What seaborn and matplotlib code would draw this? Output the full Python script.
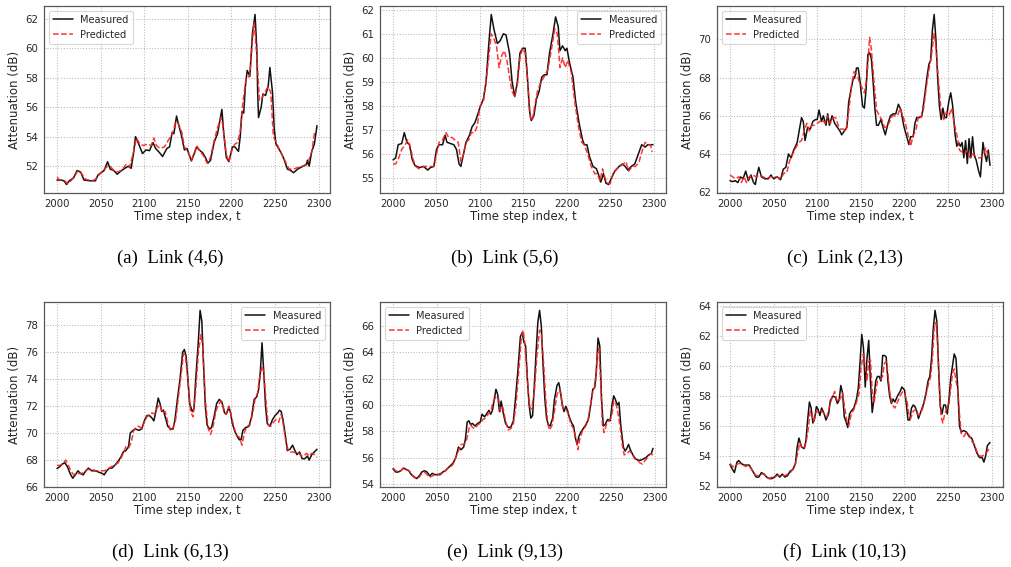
import matplotlib
matplotlib.use("Agg")
import matplotlib.pyplot as plt
import seaborn as sns

# ---- Link (4,6) ----
a_meas_t = [2000, 2005, 2008, 2011, 2014, 2019, 2023, 2027, 2031, 2038, 2044, 2047, 2054, 2058, 2061, 2065,
            2069, 2074, 2079, 2082, 2085, 2088, 2090, 2093, 2098, 2102, 2106, 2110, 2113, 2117, 2121, 2126,
            2129, 2132, 2134, 2137, 2139, 2143, 2146, 2149, 2154, 2157, 2160, 2163, 2167, 2170, 2173, 2176,
            2180, 2184, 2187, 2189, 2191, 2194, 2197, 2201, 2204, 2208, 2210, 2212, 2214, 2216, 2218, 2221,
            2224, 2227, 2229, 2230, 2231, 2234, 2236, 2239, 2242, 2244, 2247, 2249, 2251, 2256, 2260, 2264,
            2268, 2271, 2276, 2282, 2286, 2287, 2289, 2292, 2295, 2298]
a_meas_v = [51.05, 51.05, 51.0, 50.75, 51.0, 51.2, 51.7, 51.6, 51.05, 51.0, 51.0, 51.4, 51.7, 52.3, 51.8, 51.7,
            51.45, 51.7, 51.9, 52.0, 51.85, 53.0, 54.0, 53.6, 52.85, 53.1, 53.05, 53.6, 53.2, 52.95, 52.65, 53.2,
            53.3, 54.3, 54.2, 55.4, 54.9, 54.0, 53.1, 53.2, 52.35, 52.8, 53.3, 53.1, 52.9, 52.6, 52.2, 52.4,
            53.6, 54.2, 55.2, 55.85, 54.3, 52.6, 52.3, 53.3, 53.3, 53.0, 54.0, 55.7, 55.6, 57.5, 58.5, 58.1,
            61.0, 62.3, 60.0, 57.0, 55.3, 56.0, 56.9, 56.8, 57.4, 58.7, 57.0, 54.5, 53.5, 53.0, 52.5, 51.8,
            51.7, 51.55, 51.8, 52.0, 52.1, 52.4, 52.0, 53.0, 53.5, 54.75]
a_pred_t = [2000, 2003, 2009, 2012, 2016, 2020, 2024, 2028, 2033, 2040, 2044, 2048, 2053, 2058, 2061, 2065,
            2069, 2074, 2079, 2083, 2088, 2091, 2095, 2099, 2104, 2108, 2111, 2114, 2118, 2123, 2128, 2133,
            2136, 2139, 2143, 2146, 2150, 2154, 2158, 2160, 2164, 2168, 2172, 2176, 2180, 2184, 2188, 2190,
            2194, 2197, 2201, 2204, 2207, 2210, 2213, 2217, 2221, 2224, 2226, 2229, 2232, 2234, 2237, 2240,
            2242, 2245, 2248, 2252, 2256, 2261, 2266, 2271, 2276, 2283, 2288, 2292, 2295, 2298]
a_pred_v = [51.25, 51.05, 51.0, 50.8, 51.0, 51.3, 51.7, 51.5, 51.1, 51.0, 51.1, 51.4, 51.7, 52.0, 52.0, 51.7,
            51.6, 51.7, 52.1, 51.9, 53.0, 53.9, 53.5, 53.4, 53.5, 53.4, 53.9, 53.4, 53.2, 53.3, 53.8, 54.3,
            55.0, 54.9, 54.3, 53.3, 53.0, 52.4, 53.0, 53.4, 53.0, 52.7, 52.2, 52.6, 53.7, 54.6, 55.3, 54.8,
            52.8, 52.3, 53.2, 53.5, 53.6, 54.4, 56.3, 58.0, 58.1, 60.5, 61.8, 59.5, 56.5, 56.5, 56.9, 57.2,
            57.4, 57.0, 54.0, 53.5, 53.0, 52.4, 51.8, 51.8, 51.9, 52.0, 52.3, 53.0, 54.2, 54.3]

# ---- Link (5,6) ----
b_meas_t = [2000, 2003, 2006, 2010, 2013, 2016, 2019, 2022, 2025, 2030, 2035, 2040, 2043, 2047, 2050, 2053,
            2057, 2060, 2062, 2066, 2070, 2073, 2076, 2078, 2081, 2084, 2088, 2091, 2094, 2097, 2100, 2104,
            2107, 2110, 2113, 2116, 2120, 2123, 2127, 2130, 2134, 2137, 2140, 2143, 2146, 2149, 2152, 2154,
            2157, 2159, 2162, 2165, 2168, 2171, 2174, 2177, 2180, 2184, 2187, 2190, 2192, 2195, 2198, 2200,
            2203, 2207, 2210, 2214, 2218, 2220, 2223, 2226, 2230, 2234, 2236, 2239, 2242, 2245, 2248, 2251,
            2255, 2260, 2264, 2267, 2270, 2274, 2278, 2282, 2286, 2290, 2293, 2299]
b_meas_v = [55.77, 55.85, 56.4, 56.45, 56.9, 56.5, 56.4, 55.8, 55.55, 55.45, 55.5, 55.35, 55.45, 55.5, 56.2, 56.4,
            56.4, 56.8, 56.5, 56.45, 56.4, 56.2, 55.6, 55.5, 56.0, 56.5, 56.8, 57.15, 57.3, 57.6, 57.95, 58.3,
            59.0, 60.5, 61.8, 61.2, 60.6, 60.7, 61.0, 60.95, 60.2, 59.0, 58.4, 59.0, 60.2, 60.4, 60.4, 59.5,
            57.8, 57.4, 57.6, 58.3, 58.6, 59.2, 59.3, 59.3, 60.2, 61.0, 61.7, 61.3, 60.3, 60.5, 60.3, 60.4,
            59.8, 59.2, 58.2, 57.3, 56.6, 56.4, 56.4, 55.9, 55.5, 55.4, 55.2, 54.85, 55.2, 54.8, 54.75, 55.0,
            55.3, 55.5, 55.6, 55.5, 55.35, 55.5, 55.6, 56.0, 56.4, 56.3, 56.4, 56.4]
b_pred_t = [2000, 2003, 2006, 2010, 2014, 2017, 2020, 2023, 2026, 2030, 2035, 2040, 2044, 2047, 2050, 2053,
            2057, 2061, 2064, 2068, 2071, 2075, 2078, 2081, 2084, 2087, 2090, 2094, 2097, 2100, 2104, 2107,
            2110, 2113, 2116, 2119, 2122, 2125, 2128, 2131, 2134, 2137, 2140, 2143, 2146, 2149, 2152, 2155,
            2158, 2160, 2163, 2166, 2169, 2172, 2175, 2178, 2182, 2186, 2189, 2192, 2195, 2198, 2201, 2205,
            2209, 2213, 2217, 2220, 2224, 2228, 2232, 2235, 2238, 2241, 2244, 2247, 2250, 2253, 2257, 2261,
            2265, 2268, 2271, 2275, 2279, 2283, 2287, 2290, 2294, 2296, 2298]
b_pred_v = [55.6, 55.6, 55.8, 56.2, 56.4, 56.6, 56.3, 55.8, 55.5, 55.4, 55.5, 55.5, 55.5, 55.5, 56.0, 56.5,
            56.6, 56.9, 56.7, 56.7, 56.6, 56.5, 55.7, 56.0, 56.5, 56.6, 56.9, 56.9, 57.2, 58.0, 58.2, 59.0,
            60.0, 61.0, 60.8, 60.5, 59.6, 60.1, 60.3, 59.9, 59.2, 58.6, 58.4, 58.9, 60.0, 60.4, 60.2, 59.0,
            57.5, 57.4, 58.0, 58.6, 58.9, 59.1, 59.3, 59.5, 60.3, 61.2, 61.0, 59.6, 60.0, 59.6, 59.9, 59.4,
            58.2, 57.2, 56.5, 56.4, 56.0, 55.5, 55.2, 55.2, 54.9, 55.4, 55.0, 54.8, 54.8, 55.2, 55.4, 55.5,
            55.6, 55.7, 55.3, 55.5, 55.5, 55.7, 56.2, 56.5, 56.4, 56.4, 56.1]

# ---- Link (2,13) ----
c_meas_t = [2000, 2003, 2006, 2009, 2012, 2015, 2018, 2021, 2024, 2027, 2029, 2031, 2033, 2036, 2040, 2044,
            2047, 2050, 2054, 2058, 2061, 2064, 2067, 2070, 2073, 2077, 2080, 2082, 2084, 2086, 2089, 2092,
            2095, 2098, 2100, 2102, 2105, 2107, 2110, 2112, 2114, 2117, 2120, 2123, 2126, 2128, 2131, 2134,
            2136, 2138, 2141, 2143, 2145, 2147, 2149, 2152, 2154, 2156, 2158, 2160, 2162, 2164, 2166, 2168,
            2170, 2173, 2176, 2178, 2181, 2184, 2187, 2190, 2193, 2196, 2199, 2202, 2205, 2207, 2210, 2212,
            2214, 2217, 2220, 2223, 2226, 2228, 2230, 2232, 2234, 2236, 2238, 2240, 2242, 2244, 2246, 2248,
            2251, 2253, 2255, 2258, 2260, 2262, 2264, 2266, 2268, 2270, 2272, 2274, 2276, 2278, 2280, 2282,
            2285, 2287, 2290, 2292, 2294, 2296, 2298]
c_meas_v = [62.6, 62.55, 62.6, 62.5, 62.8, 62.7, 63.1, 62.6, 62.9, 62.5, 62.4, 62.9, 63.3, 62.8, 62.7, 62.7,
            62.9, 62.7, 62.8, 62.65, 63.2, 63.3, 64.0, 63.8, 64.2, 64.6, 65.4, 65.9, 65.7, 64.7, 65.4, 65.3,
            65.7, 65.8, 65.8, 66.3, 65.7, 66.0, 65.5, 66.1, 65.5, 66.0, 65.6, 65.4, 65.2, 65.0, 65.2, 65.4,
            66.7, 67.2, 67.9, 68.0, 68.5, 68.5, 67.8, 66.5, 66.4, 67.4, 69.2, 69.3, 69.0, 67.8, 66.4, 65.5,
            65.5, 65.8, 65.3, 65.0, 65.6, 66.0, 66.1, 66.1, 66.6, 66.3, 65.5, 65.0, 64.5, 64.9, 64.9, 65.6,
            65.9, 65.9, 66.0, 67.0, 68.1, 68.7, 68.9, 70.5, 71.3, 70.0, 68.0, 66.5, 65.8, 66.4, 65.9, 65.9,
            66.8, 67.2, 66.6, 65.0, 64.4, 64.6, 64.4, 64.6, 63.8, 64.7, 63.5, 64.8, 63.8, 64.9, 63.9, 63.7,
            63.1, 62.8, 64.6, 64.0, 63.6, 64.2, 63.4]
c_pred_t = [2000, 2003, 2006, 2010, 2013, 2016, 2019, 2022, 2026, 2030, 2034, 2038, 2042, 2046, 2050, 2054,
            2058, 2062, 2065, 2068, 2071, 2075, 2079, 2082, 2085, 2088, 2091, 2094, 2097, 2100, 2103, 2106,
            2109, 2112, 2115, 2118, 2121, 2124, 2127, 2130, 2133, 2136, 2139, 2142, 2145, 2148, 2151, 2154,
            2157, 2160, 2162, 2165, 2168, 2171, 2174, 2177, 2180, 2183, 2186, 2189, 2192, 2195, 2198, 2201,
            2204, 2207, 2210, 2213, 2216, 2219, 2222, 2225, 2228, 2231, 2234, 2236, 2239, 2242, 2245, 2248,
            2251, 2254, 2257, 2260, 2263, 2266, 2269, 2272, 2275, 2278, 2281, 2284, 2287, 2290, 2293, 2296,
            2298]
c_pred_v = [62.9, 62.8, 62.7, 62.8, 62.5, 62.8, 62.5, 62.8, 62.9, 62.8, 62.9, 62.8, 62.7, 62.8, 62.8, 62.8,
            62.7, 63.0, 63.0, 63.6, 63.9, 64.3, 64.6, 64.7, 65.2, 65.6, 65.2, 65.5, 65.5, 65.6, 65.7, 65.8,
            65.6, 66.0, 65.6, 65.9, 65.9, 65.5, 65.3, 65.3, 65.2, 66.2, 67.5, 68.3, 68.2, 67.8, 67.5, 67.2,
            68.0, 70.1, 69.5, 67.8, 66.3, 66.0, 65.8, 65.4, 65.4, 65.7, 66.0, 66.0, 66.0, 66.4, 66.0, 65.6,
            65.0, 64.4, 65.0, 65.2, 66.0, 65.9, 66.4, 67.5, 68.4, 69.2, 70.3, 69.6, 67.8, 66.2, 65.8, 66.2,
            66.0, 66.4, 65.6, 65.0, 64.2, 64.1, 64.0, 64.2, 63.8, 64.0, 63.9, 63.8, 63.8, 63.9, 64.3, 63.9,
            64.0]

# ---- Link (6,13) ----
d_meas_t = [2000, 2003, 2006, 2009, 2012, 2015, 2018, 2021, 2024, 2027, 2030, 2033, 2036, 2040, 2044, 2048,
            2052, 2054, 2057, 2060, 2063, 2066, 2070, 2073, 2076, 2079, 2082, 2084, 2087, 2090, 2094, 2097,
            2100, 2103, 2106, 2109, 2111, 2113, 2116, 2118, 2120, 2122, 2124, 2127, 2130, 2133, 2135, 2138,
            2141, 2144, 2146, 2148, 2150, 2152, 2155, 2157, 2159, 2162, 2164, 2166, 2168, 2170, 2172, 2175,
            2177, 2180, 2183, 2186, 2189, 2192, 2194, 2197, 2199, 2201, 2204, 2207, 2209, 2211, 2213, 2216,
            2220, 2223, 2226, 2229, 2231, 2233, 2235, 2237, 2239, 2241, 2244, 2247, 2250, 2253, 2255, 2257,
            2259, 2262, 2264, 2267, 2270, 2272, 2275, 2278, 2281, 2284, 2287, 2289, 2292, 2295, 2298]
d_meas_v = [67.37, 67.5, 67.7, 67.8, 67.5, 67.0, 66.65, 66.9, 67.2, 67.0, 66.9, 67.2, 67.4, 67.2, 67.2, 67.1,
            67.0, 66.9, 67.2, 67.4, 67.4, 67.6, 67.9, 68.2, 68.6, 68.7, 69.0, 70.0, 70.2, 70.3, 70.2, 70.3,
            70.9, 71.3, 71.3, 71.1, 70.9, 71.5, 72.6, 72.2, 71.6, 71.7, 71.2, 70.5, 70.3, 70.3, 70.9, 72.5,
            74.0, 76.0, 76.2, 75.7, 74.0, 72.2, 71.6, 71.8, 74.0, 76.8, 79.1, 78.3, 75.0, 72.0, 70.6, 70.3,
            70.4, 71.2, 72.2, 72.5, 72.3, 71.5, 71.4, 71.9, 71.5, 70.7, 70.1, 69.7, 69.5, 69.5, 70.2, 70.4,
            70.5, 71.2, 72.5, 72.7, 73.2, 74.5, 76.7, 74.5, 72.0, 70.7, 70.5, 71.0, 71.3, 71.5, 71.7, 71.6,
            71.0, 69.7, 68.7, 68.8, 69.1, 68.8, 68.4, 68.6, 68.1, 68.1, 68.3, 68.0, 68.4, 68.6, 68.8]
d_pred_t = [2000, 2003, 2006, 2010, 2013, 2016, 2019, 2022, 2025, 2028, 2031, 2035, 2040, 2045, 2050, 2054,
            2058, 2062, 2066, 2070, 2073, 2076, 2079, 2082, 2085, 2088, 2091, 2094, 2097, 2100, 2103, 2106,
            2109, 2112, 2115, 2118, 2121, 2124, 2127, 2130, 2133, 2136, 2139, 2142, 2145, 2147, 2150, 2153,
            2156, 2159, 2162, 2165, 2167, 2170, 2173, 2176, 2179, 2182, 2185, 2188, 2191, 2194, 2197, 2200,
            2203, 2206, 2209, 2212, 2215, 2218, 2221, 2224, 2227, 2230, 2232, 2235, 2237, 2240, 2242, 2245,
            2248, 2251, 2254, 2257, 2259, 2262, 2265, 2268, 2271, 2274, 2277, 2280, 2283, 2286, 2289, 2292,
            2295, 2298]
d_pred_v = [67.6, 67.6, 67.7, 68.0, 67.6, 67.2, 66.9, 67.0, 67.0, 67.0, 67.1, 67.3, 67.3, 67.2, 67.2, 67.2,
            67.3, 67.5, 67.6, 67.8, 68.1, 68.5, 69.0, 68.9, 69.3, 70.2, 70.5, 70.5, 70.3, 70.8, 71.2, 71.4,
            71.5, 71.4, 71.9, 72.1, 71.5, 71.6, 70.8, 70.2, 70.4, 71.0, 72.6, 74.2, 75.9, 75.8, 74.0, 71.6,
            71.2, 73.2, 76.0, 77.3, 76.5, 72.5, 70.4, 69.9, 70.5, 71.6, 72.1, 72.4, 71.8, 71.4, 72.0, 71.2,
            70.4, 69.8, 69.7, 69.1, 70.1, 70.5, 70.6, 71.4, 72.5, 73.0, 74.0, 75.0, 74.5, 72.0, 70.6, 70.5,
            70.8, 71.0, 70.8, 71.4, 70.8, 69.5, 68.7, 68.6, 68.6, 68.5, 68.5, 68.3, 68.3, 68.5, 68.3, 68.5,
            68.4, 68.2]

# ---- Link (9,13) ----
e_meas_t = [2000, 2003, 2006, 2009, 2012, 2015, 2018, 2021, 2024, 2027, 2030, 2033, 2036, 2039, 2042, 2045,
            2048, 2051, 2054, 2057, 2060, 2063, 2066, 2069, 2072, 2075, 2078, 2081, 2083, 2085, 2087, 2089,
            2091, 2094, 2097, 2100, 2102, 2105, 2108, 2110, 2112, 2114, 2116, 2118, 2120, 2122, 2124, 2126,
            2129, 2132, 2135, 2138, 2140, 2143, 2146, 2148, 2150, 2152, 2154, 2156, 2158, 2160, 2162, 2164,
            2166, 2168, 2170, 2172, 2174, 2176, 2178, 2180, 2183, 2185, 2188, 2190, 2192, 2194, 2196, 2198,
            2200, 2202, 2205, 2207, 2209, 2211, 2213, 2215, 2218, 2221, 2224, 2227, 2229, 2231, 2233, 2235,
            2237, 2239, 2241, 2243, 2246, 2249, 2251, 2253, 2255, 2257, 2259, 2261, 2264, 2266, 2268, 2270,
            2272, 2275, 2278, 2281, 2284, 2287, 2290, 2293, 2296, 2298]
e_meas_v = [55.15, 54.9, 54.9, 55.0, 55.2, 55.1, 55.0, 54.7, 54.55, 54.4, 54.6, 54.9, 55.0, 54.9, 54.6, 54.8,
            54.7, 54.7, 54.7, 54.9, 55.0, 55.2, 55.4, 55.6, 56.0, 56.8, 56.6, 56.8, 57.4, 58.7, 58.8, 58.5,
            58.6, 58.4, 58.6, 58.7, 59.3, 59.1, 59.4, 59.6, 59.3, 59.6, 60.4, 61.2, 60.8, 59.5, 60.3, 59.5,
            58.6, 58.3, 58.3, 58.8, 60.2, 62.5, 65.2, 65.5, 64.8, 64.5, 62.0, 60.0, 59.0, 59.2, 61.5, 64.0,
            66.3, 67.2, 66.0, 63.0, 60.5, 59.0, 58.5, 58.4, 59.0, 60.4, 61.5, 61.7, 61.0, 60.0, 59.5, 59.9,
            59.6, 59.1, 58.6, 58.4, 57.5, 57.0, 57.6, 57.9, 58.2, 58.5, 58.9, 60.2, 61.2, 61.3, 62.5, 65.1,
            64.5, 60.5, 58.4, 58.5, 58.9, 58.8, 60.0, 60.7, 60.4, 60.0, 60.2, 58.5, 56.8, 56.5, 56.7, 57.0,
            56.6, 56.2, 55.9, 55.8, 55.8, 55.9, 56.0, 56.2, 56.3, 56.7]
e_pred_t = [2000, 2003, 2006, 2009, 2012, 2015, 2018, 2021, 2024, 2027, 2030, 2033, 2036, 2039, 2042, 2045,
            2048, 2051, 2054, 2057, 2060, 2063, 2066, 2069, 2072, 2075, 2078, 2081, 2084, 2087, 2089, 2091,
            2094, 2097, 2100, 2103, 2106, 2109, 2112, 2115, 2118, 2121, 2123, 2126, 2129, 2132, 2135, 2138,
            2141, 2144, 2147, 2149, 2151, 2153, 2155, 2157, 2159, 2162, 2165, 2168, 2170, 2173, 2175, 2177,
            2179, 2182, 2185, 2188, 2191, 2193, 2195, 2198, 2201, 2204, 2207, 2210, 2212, 2214, 2217, 2220,
            2223, 2226, 2229, 2232, 2234, 2236, 2238, 2240, 2242, 2245, 2248, 2251, 2253, 2256, 2258, 2260,
            2263, 2265, 2268, 2271, 2274, 2277, 2280, 2283, 2286, 2289, 2292, 2295, 2298]
e_pred_v = [55.2, 55.0, 54.9, 55.0, 55.2, 55.1, 55.0, 54.8, 54.5, 54.4, 54.5, 54.8, 54.9, 54.7, 54.5, 54.6,
            54.7, 54.7, 54.8, 54.8, 55.0, 55.2, 55.3, 55.5, 56.0, 56.5, 57.0, 57.0, 57.2, 58.2, 58.5, 58.3,
            58.2, 58.5, 58.6, 58.9, 59.0, 59.3, 59.5, 60.3, 60.6, 60.5, 59.5, 59.8, 58.8, 58.1, 58.2, 58.6,
            60.0, 62.5, 65.0, 65.7, 64.8, 63.0, 61.0, 59.8, 59.7, 61.0, 63.8, 65.7, 65.5, 62.8, 60.5, 58.8,
            58.1, 58.4, 59.5, 60.8, 61.2, 60.5, 59.7, 59.7, 59.3, 58.5, 58.2, 57.4, 56.6, 57.4, 58.0, 58.3,
            58.7, 59.8, 61.0, 61.5, 63.8, 64.3, 61.8, 58.5, 57.9, 58.6, 58.8, 59.3, 60.3, 60.0, 59.3, 58.5,
            56.9, 56.2, 56.3, 56.5, 56.3, 55.9, 55.8, 55.6, 55.5, 55.8, 56.0, 56.3, 56.2]

# ---- Link (10,13) ----
f_meas_t = [2000, 2003, 2005, 2008, 2010, 2013, 2016, 2019, 2022, 2025, 2028, 2030, 2033, 2036, 2039, 2042,
            2045, 2048, 2051, 2054, 2057, 2060, 2063, 2066, 2069, 2072, 2075, 2077, 2079, 2082, 2085, 2087,
            2089, 2091, 2093, 2095, 2097, 2099, 2101, 2103, 2105, 2108, 2110, 2113, 2115, 2118, 2121, 2123,
            2125, 2127, 2129, 2131, 2133, 2135, 2137, 2139, 2142, 2145, 2147, 2149, 2151, 2153, 2155, 2157,
            2159, 2161, 2163, 2165, 2167, 2169, 2171, 2173, 2175, 2177, 2179, 2181, 2183, 2185, 2187, 2189,
            2192, 2195, 2197, 2200, 2202, 2204, 2206, 2208, 2210, 2212, 2214, 2216, 2219, 2222, 2225, 2227,
            2229, 2231, 2233, 2235, 2237, 2239, 2241, 2243, 2245, 2247, 2249, 2251, 2253, 2255, 2257, 2259,
            2261, 2263, 2265, 2268, 2271, 2274, 2277, 2280, 2283, 2286, 2289, 2291, 2293, 2295, 2298]
f_meas_v = [53.44, 53.1, 52.9, 53.6, 53.7, 53.5, 53.4, 53.4, 53.4, 53.1, 52.8, 52.6, 52.6, 52.9, 52.8, 52.6,
            52.5, 52.5, 52.6, 52.8, 52.6, 52.8, 52.6, 52.7, 53.0, 53.1, 53.5, 54.6, 55.2, 54.6, 54.5, 55.0,
            56.4, 57.6, 57.2, 56.2, 56.5, 57.3, 57.1, 56.7, 57.2, 56.8, 56.4, 56.8, 57.7, 58.0, 57.9, 57.5,
            57.7, 58.7, 58.2, 56.6, 56.3, 55.9, 56.8, 57.0, 57.2, 57.8, 58.5, 60.2, 62.1, 61.2, 58.6, 60.5,
            61.7, 59.0, 56.9, 57.8, 59.0, 59.3, 59.3, 59.0, 60.7, 60.7, 60.6, 59.0, 58.0, 57.5, 57.8, 57.6,
            58.0, 58.3, 58.6, 58.4, 57.5, 56.4, 56.4, 57.2, 57.4, 57.3, 57.0, 56.5, 57.0, 57.5, 58.3, 59.0,
            59.3, 60.5, 62.5, 63.7, 63.0, 60.0, 57.3, 56.8, 57.4, 57.4, 56.8, 57.8, 59.2, 60.0, 60.8, 60.5,
            58.6, 56.0, 55.6, 55.7, 55.6, 55.3, 55.2, 54.7, 54.2, 53.9, 53.9, 53.6, 54.0, 54.7, 54.9]
f_pred_t = [2000, 2003, 2006, 2009, 2012, 2015, 2018, 2021, 2024, 2027, 2030, 2033, 2036, 2039, 2042, 2045,
            2048, 2051, 2054, 2057, 2060, 2063, 2066, 2069, 2072, 2075, 2078, 2080, 2083, 2086, 2089, 2092,
            2094, 2096, 2099, 2102, 2105, 2108, 2111, 2114, 2117, 2120, 2122, 2124, 2127, 2129, 2131, 2134,
            2136, 2139, 2142, 2145, 2148, 2150, 2153, 2155, 2157, 2159, 2161, 2163, 2165, 2167, 2169, 2172,
            2175, 2177, 2179, 2181, 2183, 2186, 2189, 2192, 2195, 2198, 2200, 2203, 2205, 2207, 2210, 2213,
            2216, 2218, 2221, 2224, 2227, 2230, 2232, 2234, 2236, 2238, 2240, 2242, 2244, 2246, 2249, 2251,
            2253, 2255, 2257, 2259, 2261, 2263, 2265, 2268, 2271, 2274, 2277, 2280, 2283, 2286, 2289, 2292,
            2295, 2298]
f_pred_v = [53.5, 53.3, 53.3, 53.5, 53.5, 53.4, 53.3, 53.4, 53.2, 52.9, 52.7, 52.7, 52.8, 52.8, 52.6, 52.5,
            52.6, 52.6, 52.7, 52.7, 52.7, 52.7, 52.8, 52.9, 53.1, 53.5, 54.3, 54.9, 54.5, 54.6, 55.5, 57.0,
            56.8, 56.3, 57.0, 56.9, 57.0, 56.8, 56.6, 57.3, 57.9, 58.3, 57.8, 57.6, 57.9, 58.2, 57.4, 56.3,
            56.0, 56.8, 57.1, 57.6, 58.2, 59.8, 60.8, 60.0, 59.0, 60.3, 60.4, 58.3, 57.5, 58.3, 59.0, 59.1,
            59.3, 60.2, 60.3, 59.5, 58.3, 57.4, 57.2, 57.6, 58.0, 58.3, 58.2, 57.6, 56.8, 56.5, 57.0, 57.1,
            56.7, 56.8, 57.2, 57.9, 58.7, 59.3, 60.5, 62.5, 62.9, 61.5, 58.5, 56.6, 56.2, 56.8, 57.2, 57.5,
            58.5, 59.5, 59.8, 59.0, 58.5, 56.8, 55.5, 55.3, 55.6, 55.4, 55.0, 54.8, 54.3, 54.0, 54.0, 54.1,
            54.3, 54.6]

captions = ["(a)  Link (4,6)", "(b)  Link (5,6)", "(c)  Link (2,13)",
            "(d)  Link (6,13)", "(e)  Link (9,13)", "(f)  Link (10,13)"]
legend_locs = ["upper left", "upper right", "upper left",
               "upper right", "upper left", "upper left"]
y_ticks = [[52, 54, 56, 58, 60, 62], [55, 56, 57, 58, 59, 60, 61, 62], [62, 64, 66, 68, 70],
           [66, 68, 70, 72, 74, 76, 78], [54, 56, 58, 60, 62, 64, 66], [52, 54, 56, 58, 60, 62, 64]]
series = [(a_meas_t, a_meas_v, a_pred_t, a_pred_v), (b_meas_t, b_meas_v, b_pred_t, b_pred_v),
          (c_meas_t, c_meas_v, c_pred_t, c_pred_v), (d_meas_t, d_meas_v, d_pred_t, d_pred_v),
          (e_meas_t, e_meas_v, e_pred_t, e_pred_v), (f_meas_t, f_meas_v, f_pred_t, f_pred_v)]

sns.set_theme(style="whitegrid", rc={
    "axes.edgecolor": "0.35",
    "axes.linewidth": 0.9,
    "grid.linestyle": ":",
    "grid.color": "0.72",
    "grid.linewidth": 0.75,
    "xtick.bottom": False,
    "ytick.left": False,
    "xtick.color": "0.15",
    "ytick.color": "0.15",
    "xtick.labelsize": 7.3,
    "ytick.labelsize": 7.3,
    "axes.labelsize": 8.5,
    "axes.labelcolor": "0.15",
    "legend.fontsize": 7.1,
})
plt.rcParams["font.family"] = ["DejaVu Sans"]

W, H = 1012, 567
fig = plt.figure(figsize=(W / 100, H / 100), dpi=100)

col_left = [44, 380, 717]
ax_w = 286
rows = [(6, 193), (302, 487)]
cap_x = [170, 505, 845]
cap_y = [258, 552]

for i, (mt, mv, pt, pv) in enumerate(series):
    r, c = divmod(i, 3)
    top, bot = rows[r]
    ax = fig.add_axes([col_left[c] / W, 1 - bot / H, ax_w / W, (bot - top) / H])
    sns.lineplot(x=mt, y=mv, ax=ax, color="#111111", linewidth=1.1, label="Measured")
    sns.lineplot(x=pt, y=pv, ax=ax, color="#ff2020", linewidth=1.1, linestyle="--",
                 alpha=0.9, label="Predicted")
    ax.set_xticks([2000, 2050, 2100, 2150, 2200, 2250, 2300])
    ax.set_yticks(y_ticks[i])
    ax.set_xlabel("Time step index, t", labelpad=1)
    ax.set_ylabel("Attenuation (dB)", labelpad=3)
    ax.tick_params(length=0, pad=4)
    ax.grid(True, which="major")
    leg = ax.legend(loc=legend_locs[i], frameon=True, fancybox=True)
    leg.get_frame().set_edgecolor("0.8")
    leg.get_frame().set_linewidth(0.8)
    for sp in ax.spines.values():
        sp.set_visible(True)
    fig.text(cap_x[c] / W, 1 - cap_y[r] / H, captions[i], ha="center", va="center",
             family=["Liberation Serif", "DejaVu Serif"], fontsize=13.5, color="black")

fig.savefig("out.png", dpi=100)
